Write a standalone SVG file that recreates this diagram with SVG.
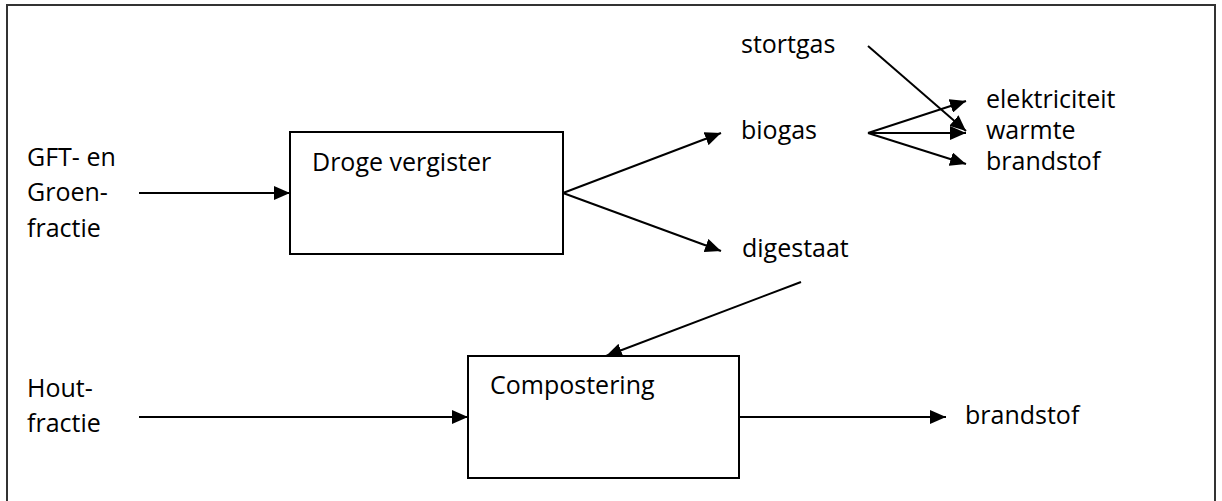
<svg xmlns="http://www.w3.org/2000/svg" width="1222" height="501" viewBox="0 0 1222 501">
  <style>
    text { font-family: "Open Sans", "Noto Sans", "Liberation Sans", sans-serif; font-size: 25px; fill: #000; }
    .box { fill: #fff; stroke: #000; stroke-width: 2; }
    .flow { stroke: #000; stroke-width: 2; fill: none; marker-end: url(#head); }
  </style>
  <defs>
    <marker id="head" viewBox="0 0 16 14" refX="16" refY="7" markerWidth="16" markerHeight="14" markerUnits="userSpaceOnUse" orient="auto">
      <path d="M0,0 L16,7 L0,14 Z" fill="#000"/>
    </marker>
  </defs>

  <rect x="0" y="0" width="1222" height="501" fill="#fff"/>
  <!-- outer frame -->
  <path d="M7,510 V5 H1215 V510" fill="none" stroke="#333" stroke-width="2"/>

  <g id="input-gft">
    <text x="27" y="166">GFT- en</text>
    <text x="27" y="201">Groen-</text>
    <text x="27" y="237">fractie</text>
  </g>
  <g id="input-hout">
    <text x="27" y="397">Hout-</text>
    <text x="27" y="432">fractie</text>
  </g>

  <g id="droge-vergister">
    <rect class="box" x="290" y="132" width="273" height="122"/>
    <text x="312" y="171">Droge vergister</text>
  </g>
  <g id="compostering">
    <rect class="box" x="468" y="356" width="271" height="122"/>
    <text x="490" y="394">Compostering</text>
  </g>

  <g id="stortgas"><text x="741" y="53">stortgas</text></g>
  <g id="biogas"><text x="741" y="139">biogas</text></g>
  <g id="digestaat"><text x="742" y="257">digestaat</text></g>
  <g id="elektriciteit"><text x="986" y="108">elektriciteit</text></g>
  <g id="warmte"><text x="986" y="139">warmte</text></g>
  <g id="brandstof-gas"><text x="986" y="170">brandstof</text></g>
  <g id="brandstof-compost"><text x="965" y="424">brandstof</text></g>

  <g id="connectors">
    <line class="flow" x1="139" y1="193" x2="290" y2="193"/>
    <line class="flow" x1="139" y1="417" x2="468" y2="417"/>
    <line class="flow" x1="563" y1="193" x2="721" y2="133"/>
    <line class="flow" x1="563" y1="193" x2="721" y2="251"/>
    <line class="flow" x1="801" y1="282" x2="606" y2="356"/>
    <line class="flow" x1="739" y1="417" x2="946" y2="417"/>
    <line class="flow" x1="868" y1="46" x2="966" y2="131"/>
    <line class="flow" x1="868" y1="133" x2="966" y2="101"/>
    <line class="flow" x1="868" y1="133" x2="966" y2="133"/>
    <line class="flow" x1="868" y1="133" x2="966" y2="164"/>
  </g>
</svg>
